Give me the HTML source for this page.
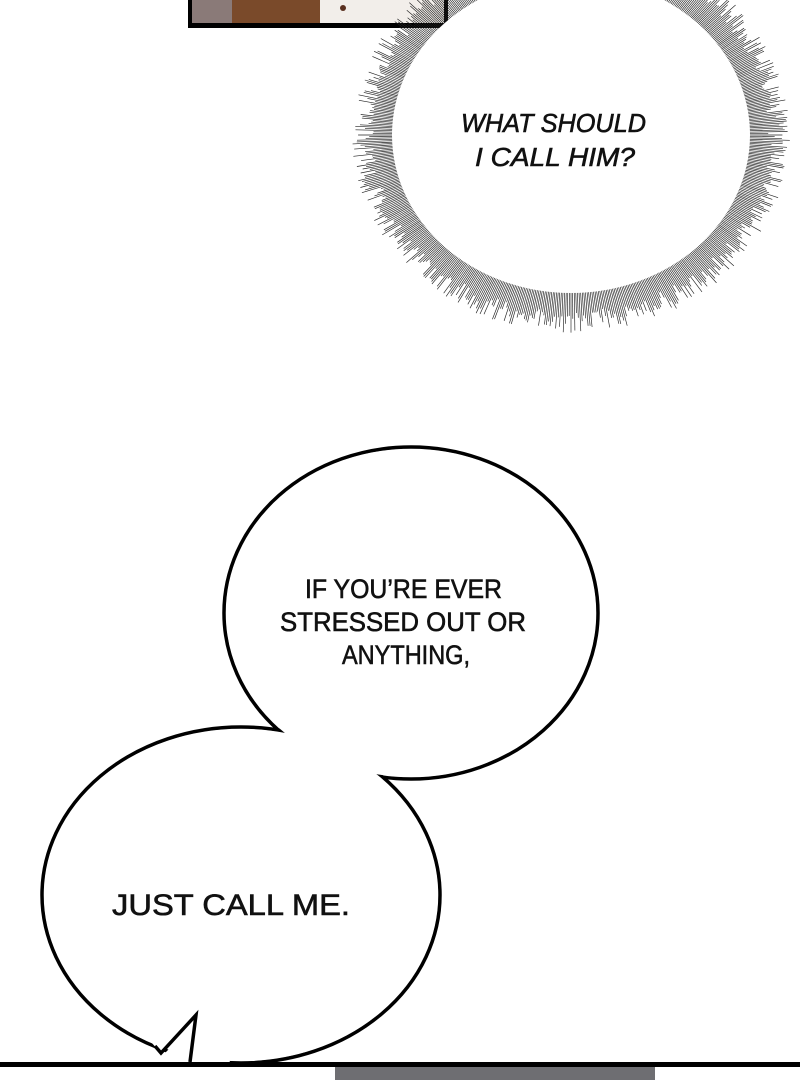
<!DOCTYPE html>
<html><head><meta charset="utf-8"><style>
html,body{margin:0;padding:0;background:#fff;width:800px;height:1080px;overflow:hidden}
svg{display:block}
text{font-family:"Liberation Sans",sans-serif;fill:#111;stroke:#111;stroke-width:0.6}
</style></head><body>
<svg id="s" width="800" height="1080" viewBox="0 0 800 1080" xmlns="http://www.w3.org/2000/svg">
<rect x="188" y="0" width="260" height="28" fill="#000"/>
<rect x="192" y="0" width="252" height="23" fill="#7a4a2a"/>
<rect x="192" y="0" width="40" height="23" fill="#8a7a78"/>
<rect x="320" y="0" width="124" height="23" fill="#f2eeea"/>
<circle cx="343" cy="8" r="3" fill="#5a3020"/>
<g id="spikes" stroke="#222" stroke-width="0.65"></g>
<ellipse cx="571" cy="135" rx="179" ry="158" fill="#fff"/>
<text font-style="italic" font-size="26" x="461" y="132" textLength="185" lengthAdjust="spacingAndGlyphs">WHAT SHOULD</text>
<text font-style="italic" font-size="26" x="475" y="166" textLength="160" lengthAdjust="spacingAndGlyphs">I CALL HIM?</text>

<rect x="335" y="1066" width="320" height="14" fill="#6e6e72"/>
<g stroke="#000" stroke-width="3.5" fill="#fff">
<ellipse cx="411" cy="613" rx="187" ry="166"/>
<ellipse cx="241" cy="895" rx="199" ry="168"/>
</g>
<g fill="#fff">
<ellipse cx="411" cy="613" rx="185" ry="164"/>
<ellipse cx="241" cy="895" rx="197" ry="166"/>
<path d="M161 1053 L196 1015 L190 1062 L230 1062 L200 1000 L140 1030 Z"/>
<path d="M163 1055 L193 1025 L192 1064 L163 1064 Z"/>
</g>
<path d="M155 1046 L161 1053 L196 1015 L190 1062" fill="none" stroke="#000" stroke-width="3.5" stroke-linejoin="miter"/>
<rect x="0" y="1062" width="800" height="5" fill="#000"/>
<text font-size="27" x="305" y="598" textLength="197" lengthAdjust="spacingAndGlyphs">IF YOU’RE EVER</text>
<text font-size="27" x="280" y="631" textLength="246" lengthAdjust="spacingAndGlyphs">STRESSED OUT OR</text>
<text font-size="27" x="342" y="664" textLength="128" lengthAdjust="spacingAndGlyphs">ANYTHING,</text>
<text font-size="30" x="112" y="915" textLength="238" lengthAdjust="spacingAndGlyphs">JUST CALL ME.</text>
</svg>
<script>
var g=document.getElementById('spikes'),s='';
var cx=571,cy=135,rx=179,ry=158,seed=12345;
function r(){seed=(seed*1103515245+12345)%2147483648;return seed/2147483648;}
for(var i=0;i<700;i++){var a=i/700*Math.PI*2;var c=Math.cos(a),n=Math.sin(a);
var L=18+r()*22;var x1=cx+(rx-3)*c,y1=cy+(ry-3)*n,x2=cx+(rx+L)*c,y2=cy+(ry+L)*n;
s+='<line x1="'+x1.toFixed(1)+'" y1="'+y1.toFixed(1)+'" x2="'+x2.toFixed(1)+'" y2="'+y2.toFixed(1)+'"/>';}
g.innerHTML=s;
</script>
</body></html>
